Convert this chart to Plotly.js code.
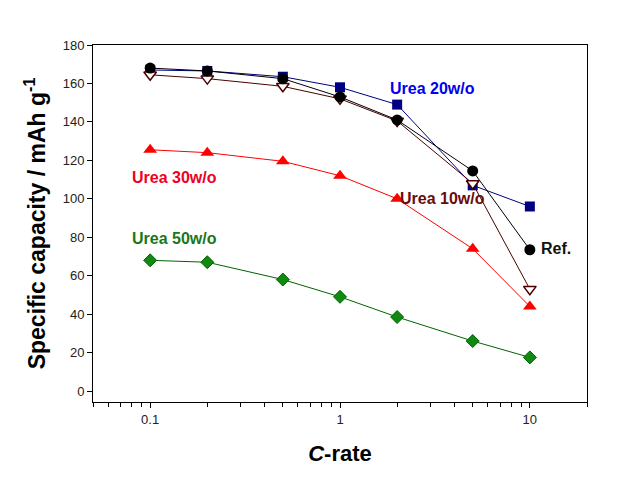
<!DOCTYPE html>
<html>
<head>
<meta charset="utf-8">
<script src="https://cdn.plot.ly/plotly-3.0.1.min.js"></script>
<style>html,body{margin:0;padding:0;background:#fff;}#chart{width:620px;height:478px;}</style>
</head>
<body>
<div id="chart"></div>
<script>
const cRate = [0.1, 0.2, 0.5, 1, 2, 5, 10];
const urea20 = [167, 166.5, 163.5, 158, 149, 107, 96];
const urea10 = [164.5, 162.5, 158.5, 152, 140.5, 108, 53];
const ref = [168, 166.5, 162.5, 153, 141, 114.5, 73.5];
const urea30 = [125.5, 124, 119.5, 112, 100, 74, 44];
const urea50 = [68, 67, 58, 49, 38.5, 26, 17.5];
const labels = ["Urea 20w/o", "Urea 30w/o", "Urea 10w/o", "Urea 50w/o", "Ref."];
const yTicks = [0, 20, 40, 60, 80, 100, 120, 140, 160, 180];
const xTicks = [0.1, 1, 10];

const font = "Arial, 'Liberation Sans', sans-serif";

const traces = [
  {x: cRate, y: urea50, mode: 'lines+markers', line: {color: '#006400', width: 1},
   marker: {symbol: 'diamond', size: 10, color: '#118811', line: {color: '#006400', width: 1}}},
  {x: cRate, y: urea30, mode: 'lines+markers', line: {color: '#ff0000', width: 1},
   marker: {symbol: 'triangle-up', size: 12, color: '#ff0000', line: {color: '#ff0000', width: 0}}},
  {x: cRate, y: urea20, mode: 'lines+markers', line: {color: '#000080', width: 1},
   marker: {symbol: 'square', size: 10, color: '#000080', line: {color: '#000080', width: 0}}},
  {x: cRate, y: urea10, mode: 'lines+markers', line: {color: '#4a0000', width: 1},
   marker: {symbol: 'triangle-down', size: 11, color: '#ffffff', line: {color: '#4a0000', width: 1.5}}},
  {x: cRate, y: ref, mode: 'lines+markers', line: {color: '#000000', width: 1},
   marker: {symbol: 'circle', size: 11, color: '#000000', line: {width: 0}}}
];

const annColors = ['#0000ee', '#ee0022', '#6b0a0a', '#187818', '#111111'];
const annPos = [[1.8, 157.6], [0.0785, 111.3], [2.02, 100.4], [0.0785, 79.6], [11.2, 74.4]];

const annotations = labels.map((t, i) => ({
  x: Math.log10(annPos[i][0]), y: annPos[i][1], xref: 'x', yref: 'y',
  text: '<b>' + t + '</b>', showarrow: false, xanchor: 'left', yanchor: 'middle',
  font: {family: font, size: 16, color: annColors[i]}
}));

const layout = {
  width: 620, height: 478,
  margin: {l: 93, r: 33, t: 45, b: 76},
  paper_bgcolor: '#fff', plot_bgcolor: '#fff',
  showlegend: false,
  font: {family: font, color: '#222'},
  xaxis: {
    type: 'log', range: [Math.log10(0.05), Math.log10(20)],
    tickvals: xTicks, ticktext: ['0.1', '1', '10'],
    ticks: 'outside', ticklen: 5, tickcolor: '#000', tickwidth: 1,
    minor: {dtick: 'D1', ticks: 'outside', ticklen: 4, tickcolor: '#000', tickwidth: 1, showgrid: false},
    showline: true, linecolor: '#000', linewidth: 1, mirror: true,
    showgrid: false, zeroline: false,
    tickfont: {family: font, size: 13, color: '#222'},
    title: {text: '<b><i>C</i>-rate</b>', font: {family: font, size: 22, color: '#000'}, standoff: 20}
  },
  yaxis: {
    range: [-5.7, 180],
    tickvals: yTicks,
    ticks: 'outside', ticklen: 5, tickcolor: '#000', tickwidth: 1,
    showline: true, linecolor: '#000', linewidth: 1, mirror: true,
    showgrid: false, zeroline: false,
    tickfont: {family: font, size: 13, color: '#222'},
    title: {text: '<b>Specific capacity / mAh g<sup>-1</sup></b>', font: {family: font, size: 23, color: '#000'}, standoff: 10}
  },
  annotations: annotations
};

Plotly.newPlot('chart', traces, layout, {displayModeBar: false, staticPlot: true});
</script>
</body>
</html>
